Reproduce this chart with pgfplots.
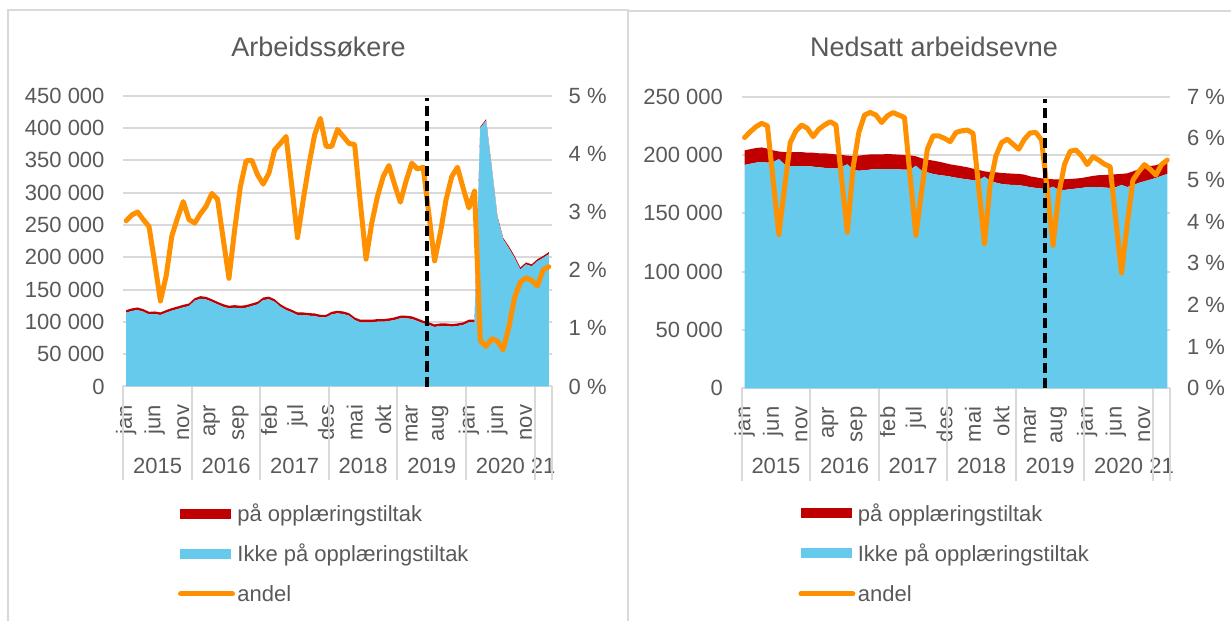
\documentclass[border=0pt]{standalone}
\usepackage{pgfplots}
\usepackage{pgfplotstable}
\pgfplotsset{compat=1.18}
\usepackage{fontspec}
\setmainfont{Liberation Sans}

\definecolor{txt}{HTML}{595959}
\definecolor{ikke}{HTML}{66CAEC}
\definecolor{paa}{HTML}{C00000}
\definecolor{andel}{HTML}{FF9100}
\definecolor{gridc}{HTML}{D9D9D9}

% i = month index, 0 = jan 2015 ... 74 = mar 2021
\pgfplotstableread{
i ikke paa andel
0 114200 4000 2.85
1 116800 4000 2.95
2 118300 4000 3.00
3 115700 4000 2.87
4 111600 4000 2.75
5 112100 4000 2.13
6 110600 4000 1.47
7 114200 4000 1.90
8 117300 4000 2.59
9 119800 4000 2.90
10 122400 4000 3.18
11 124500 4000 2.87
12 132700 4000 2.81
13 135800 4000 2.97
14 134700 4000 3.10
15 131100 4000 3.32
16 127000 4000 3.22
17 123400 4000 2.53
18 120900 4000 1.86
19 121900 4000 2.70
20 120900 4000 3.44
21 121900 4000 3.88
22 124500 4000 3.89
23 127000 4000 3.64
24 133700 4000 3.48
25 135000 4000 3.67
26 131000 4000 4.07
27 123400 4000 4.18
28 118300 4000 4.30
29 114700 4000 3.45
30 110600 4000 2.56
31 110600 4000 3.21
32 109600 4000 3.81
33 109000 4000 4.33
34 107000 4000 4.61
35 107000 4000 4.13
36 111600 4000 4.13
37 113200 4000 4.42
38 112100 4000 4.30
39 109600 4000 4.18
40 102900 4000 4.16
41 99300 4000 3.16
42 99300 4000 2.19
43 99300 4000 2.81
44 100300 4000 3.27
45 100300 4000 3.61
46 101300 4000 3.80
47 102900 4000 3.47
48 105500 4000 3.17
49 105500 4000 3.53
50 104500 4000 3.84
51 101300 4000 3.74
52 97700 4000 3.77
53 95200 4000 2.96
54 92100 4000 2.16
55 93600 4000 2.64
56 93600 4000 3.21
57 92600 4000 3.61
58 93600 4000 3.77
59 95200 4000 3.41
60 99300 4000 3.07
61 99300 4000 3.36
62 400000 2000 0.79
63 411600 2000 0.69
64 338000 2000 0.82
65 261600 2000 0.78
66 228000 2000 0.63
67 214000 3000 1.02
68 199000 3000 1.53
69 181000 3000 1.79
70 189000 3000 1.87
71 186000 3000 1.82
72 194000 3000 1.73
73 199000 3000 2.01
74 205000 3000 2.06
}\arbeid

\pgfplotstableread{
i ikke paa andel
0 191500 12500 6.02
1 192500 12500 6.16
2 193500 12500 6.28
3 194000 12500 6.36
4 193500 12000 6.30
5 194000 10000 5.00
6 196500 6500 3.69
7 192000 10500 4.82
8 190500 12000 5.90
9 190500 12000 6.18
10 190500 12000 6.32
11 190500 11500 6.24
12 190000 12000 6.04
13 189500 12000 6.22
14 189000 12500 6.32
15 188500 12500 6.40
16 188500 12000 6.32
17 190000 10000 5.02
18 192000 7500 3.75
19 187500 11500 5.30
20 186500 13000 6.14
21 187000 13000 6.56
22 187500 13000 6.62
23 188000 12500 6.56
24 188000 12500 6.38
25 188000 12900 6.54
26 188000 12600 6.62
27 187700 12600 6.56
28 187400 12600 6.50
29 187400 12300 5.06
30 190900 8000 3.67
31 186600 10600 4.74
32 185200 10800 5.74
33 183800 11400 6.06
34 182900 11400 6.06
35 182300 10900 6.00
36 181500 10500 5.92
37 180600 10600 6.14
38 179800 10600 6.18
39 179100 10400 6.20
40 178500 9800 6.12
41 178500 8700 4.82
42 181500 4500 3.47
43 178000 7400 4.90
44 176300 8900 5.58
45 175200 9400 5.90
46 174600 9700 5.98
47 174400 9600 5.86
48 174100 9700 5.74
49 173500 9700 5.98
50 172400 9300 6.13
51 171800 9100 6.14
52 171200 8800 5.96
53 170900 8600 4.74
54 172900 6300 3.43
55 170100 9100 4.66
56 170100 9100 5.37
57 170600 8900 5.69
58 171200 8600 5.72
59 171800 8500 5.58
60 172400 8800 5.37
61 172600 9500 5.56
62 172400 10300 5.48
63 172100 10800 5.38
64 171800 11400 5.32
65 172400 11100 4.03
66 174400 9400 2.77
67 172600 11700 3.95
68 174100 11900 5.00
69 176100 11600 5.20
70 177500 12000 5.37
71 178900 11700 5.26
72 180300 10900 5.12
73 182100 10800 5.37
74 183800 11400 5.48
}\nedsatt

\tikzset{yr/.style={text=txt, font=\fontsize{11}{13}\selectfont}}

\pgfplotsset{
  panel/.style={scale only axis, width=214.2pt, xmin=-0.5, xmax=74.5, ymin=0,
    anchor=south west, major tick length=0pt, scaled y ticks=false,
    every tick label/.append style={font=\fontsize{11}{13}\selectfont, text=txt}},
  mainaxis/.style={panel, axis x line*=bottom, axis y line*=left,
    y axis line style={draw=none}, x axis line style={gridc, line width=1pt},
    ymajorgrids, grid style={gridc, line width=1pt},
    xtick={0,5,...,70},
    xticklabels={jan,jun,nov,apr,sep,feb,jul,des,mai,okt,mar,aug,jan,jun,nov},
    xticklabel style={rotate=90, anchor=east, inner sep=0pt},
    xticklabel shift=9pt,
    yticklabel style={anchor=east, inner xsep=9.2pt, inner ysep=0pt},
    stack plots=y, clip=false},
  pctaxis/.style={panel, axis x line=none, axis y line*=right, xtick=\empty,
    y axis line style={draw=none},
    yticklabel style={anchor=west, inner xsep=8.3pt, inner ysep=0pt},
    legend style={draw=none, fill=none, inner sep=0pt, row sep=9.5pt, column sep=1.2pt,
      font=\fontsize{11}{13}\selectfont, text=txt,
      nodes={inner sep=0pt, text height=8pt, text depth=2.5pt, anchor=base west}},
    legend cell align=left},
  arealeg/.style={legend image code/.code={\fill[##1, draw=none] (1.2pt,1.3pt) rectangle (26.7pt,6.3pt);}},
  lineleg/.style={legend image code/.code={\draw[##1] (1.25pt,3.6pt) -- (27.25pt,3.6pt);}},
}

\begin{document}
\begin{tikzpicture}
% ---------- Arbeidssøkere ----------
\begin{axis}[mainaxis, at={(61.65pt,117.25pt)}, height=145.4pt, ymax=450000,
  ytick={0,50000,100000,150000,200000,250000,300000,350000,400000,450000},
  yticklabels={0,50 000,100 000,150 000,200 000,250 000,300 000,350 000,400 000,450 000}]
\addplot[fill=ikke, draw=none] table[x=i, y=ikke]{\arbeid} \closedcycle;
\addplot[fill=paa, draw=none] table[x=i, y=paa]{\arbeid} \closedcycle;
\pgfplotsinvokeforeach{-0.5,11.5,23.5,35.5,47.5,59.5,71.5,74.5}{
  \draw[gridc, line width=1pt] (axis cs:#1,0) -- ++(0pt,-46.75pt);}
\node[yr, yshift=-39.5pt] at (axis cs:5.5,0) {2015};
\node[yr, yshift=-39.5pt] at (axis cs:17.5,0) {2016};
\node[yr, yshift=-39.5pt] at (axis cs:29.5,0) {2017};
\node[yr, yshift=-39.5pt] at (axis cs:41.5,0) {2018};
\node[yr, yshift=-39.5pt] at (axis cs:53.5,0) {2019};
\node[yr, yshift=-39.5pt] at (axis cs:65.5,0) {2020};
\node[yr, yshift=-39.5pt] at (axis cs:73,0) {21};
\end{axis}
\begin{axis}[pctaxis, at={(61.65pt,117.25pt)}, height=145.4pt, ymax=5,
  ytick={0,1,2,3,4,5}, yticklabels={0 \%,1 \%,2 \%,3 \%,4 \%,5 \%},
  legend style={at={(0.1268,-0.4065)}, anchor=north west}]
\addlegendimage{arealeg, fill=paa}
\addlegendentry{på opplæringstiltak}
\addlegendimage{arealeg, fill=ikke}
\addlegendentry{Ikke på opplæringstiltak}
\addplot[andel, line width=2.5pt, line join=round, line cap=round, lineleg] table[x=i, y=andel]{\arbeid};
\addlegendentry{andel}
\draw[black, line width=2pt, dash pattern=on 5pt off 2.5pt] (axis cs:52.6,0) -- (axis cs:52.6,4.96);
\end{axis}

% ---------- Nedsatt arbeidsevne ----------
\begin{axis}[mainaxis, at={(370.85pt,116.35pt)}, height=145.8pt, ymax=250000,
  ytick={0,50000,100000,150000,200000,250000},
  yticklabels={0,50 000,100 000,150 000,200 000,250 000}]
\addplot[fill=ikke, draw=none] table[x=i, y=ikke]{\nedsatt} \closedcycle;
\addplot[fill=paa, draw=none] table[x=i, y=paa]{\nedsatt} \closedcycle;
\pgfplotsinvokeforeach{-0.5,11.5,23.5,35.5,47.5,59.5,71.5,74.5}{
  \draw[gridc, line width=1pt] (axis cs:#1,0) -- ++(0pt,-46.5pt);}
\node[yr, yshift=-38.8pt] at (axis cs:5.5,0) {2015};
\node[yr, yshift=-38.8pt] at (axis cs:17.5,0) {2016};
\node[yr, yshift=-38.8pt] at (axis cs:29.5,0) {2017};
\node[yr, yshift=-38.8pt] at (axis cs:41.5,0) {2018};
\node[yr, yshift=-38.8pt] at (axis cs:53.5,0) {2019};
\node[yr, yshift=-38.8pt] at (axis cs:65.5,0) {2020};
\node[yr, yshift=-38.8pt] at (axis cs:73,0) {21};
\end{axis}
\begin{axis}[pctaxis, at={(370.85pt,116.35pt)}, height=145.8pt, ymax=7,
  ytick={0,1,2,3,4,5,6,7}, yticklabels={0 \%,1 \%,2 \%,3 \%,4 \%,5 \%,6 \%,7 \%},
  legend style={at={(0.1315,-0.399)}, anchor=north west}]
\addlegendimage{arealeg, fill=paa}
\addlegendentry{på opplæringstiltak}
\addlegendimage{arealeg, fill=ikke}
\addlegendentry{Ikke på opplæringstiltak}
\addplot[andel, line width=2.5pt, line join=round, line cap=round, lineleg] table[x=i, y=andel]{\nedsatt};
\addlegendentry{andel}
\draw[black, line width=2pt, dash pattern=on 5pt off 2.5pt] (axis cs:52.65,0) -- (axis cs:52.65,6.94);
\end{axis}

% titles and chart frames
\node[text=txt, font=\fontsize{13.5}{16}\selectfont] at (159.25pt,287pt) {Arbeidssøkere};
\node[text=txt, font=\fontsize{13.5}{16}\selectfont] at (467pt,287pt) {Nedsatt arbeidsevne};
\draw[gridc, line width=0.8pt] (4pt,0pt) -- (4pt,305.5pt) -- (314pt,305.5pt) -- (314pt,0pt);
\draw[gridc, line width=0.8pt] (314pt,305pt) -- (615.5pt,305pt);
\pgfresetboundingbox
\useasboundingbox (0pt,0pt) rectangle (615.5pt,310.5pt);
\end{tikzpicture}
\end{document}
